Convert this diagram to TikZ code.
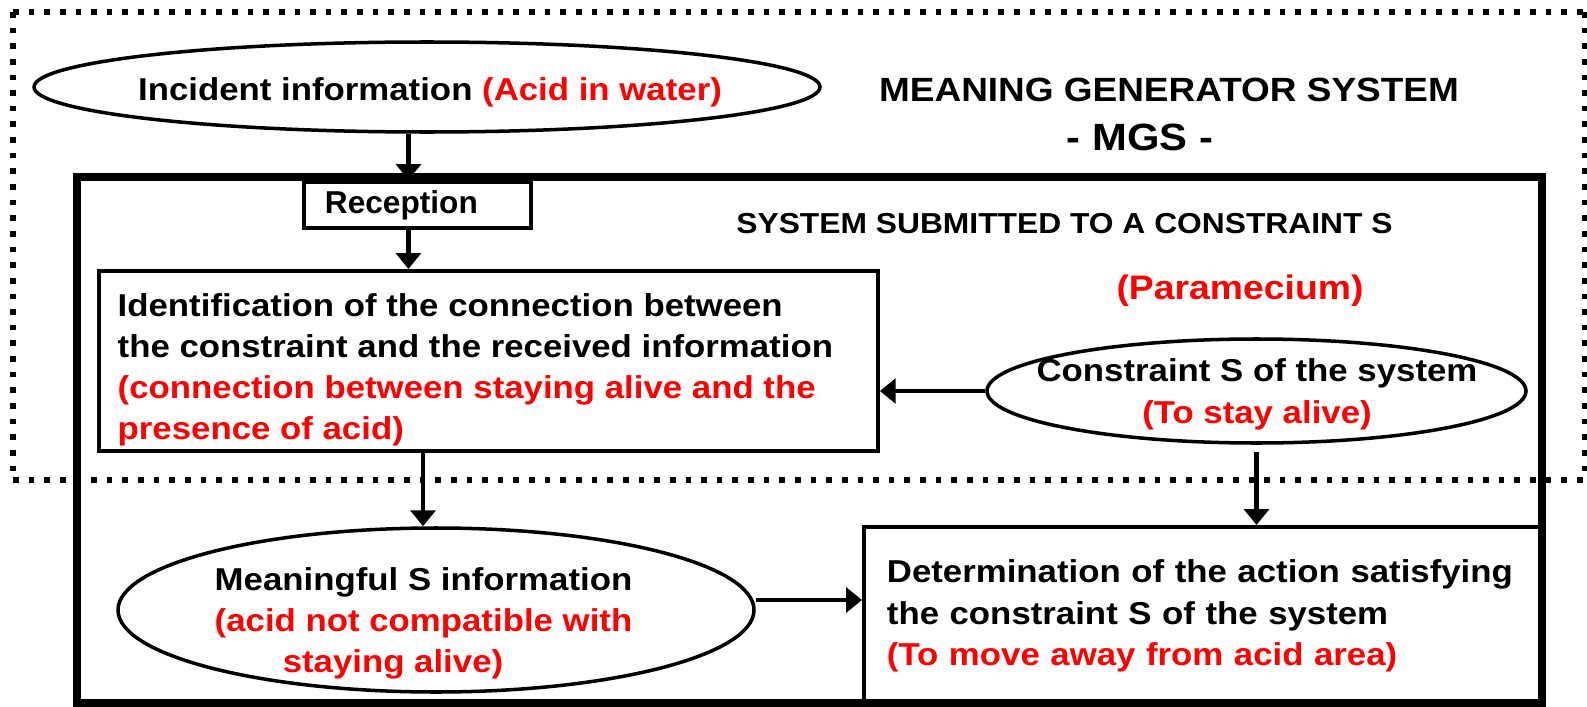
\documentclass[tikz,border=0pt]{standalone}
\usepackage{fontspec}
\setmainfont{Liberation Sans}[FakeStretch=1.1]
\newfontfamily\recepfont{Liberation Sans}
\usetikzlibrary{arrows.meta,shapes,positioning}
\definecolor{mgsred}{RGB}{255,0,0}

\begin{document}
\begin{tikzpicture}[
    every node/.style={inner sep=0pt, font=\bfseries\fontsize{9}{11.7}\selectfont},
    box/.style={draw, line width=1.1pt, rectangle, align=left},
    oval/.style={draw, line width=1pt, ellipse},
    link/.style={line width=1.3pt, -{Triangle[width=7pt,length=4.5pt]}},
    frame/.style={line width=2pt},
    mgsdots/.style={line width=1.8pt, dash pattern=on 1.6pt off 2.85pt}
  ]
  \useasboundingbox (0,0) rectangle (15.87,-7.07);
  \draw [frame] (0.77,-1.77) rectangle (15.42,-7.03);

  \node [oval, minimum width=7.86cm, minimum height=0.90cm] (incident) at (4.27,-0.87) {};
  \node [anchor=base] (incidenttxt) at (4.30,-1.00) {Incident information \textcolor{mgsred}{(Acid in water)}};

  \node [anchor=base, font=\bfseries\fontsize{9.56}{12}\selectfont] (mgstitle) at (11.69,-1.017) {MEANING GENERATOR SYSTEM};
  \node [anchor=base, font=\bfseries\fontsize{10.8}{13}\selectfont] (mgsabbr) at (11.40,-1.50) {- MGS -};
  \node [anchor=base, font=\bfseries\fontsize{8.22}{10}\selectfont] (systitle) at (10.645,-2.33) {SYSTEM SUBMITTED TO A CONSTRAINT S};
  \node [anchor=base, text=mgsred, font=\bfseries\fontsize{9.66}{12}\selectfont] (paramecium) at (12.40,-2.99) {(Paramecium)};

  \node [box, anchor=north west, inner xsep=0.21cm, minimum width=2.27cm, minimum height=0.46cm, text width=1.85cm,
         font=\recepfont\bfseries\fontsize{9}{11}\selectfont] (recep) at (3.02,-1.80) {Reception};

  \node [box, anchor=north west, minimum width=7.79cm, minimum height=1.80cm] (ident) at (0.97,-2.69) {};
  \node [anchor=north west, align=left] (identtxt) at ([xshift=0.2cm, yshift=-0.235cm]ident.north west)
    {Identification of the connection between\\
     the constraint and the received information\\
     \textcolor{mgsred}{(connection between staying alive and the}\\
     \textcolor{mgsred}{presence of acid)}};

  \node [oval, minimum width=5.39cm, minimum height=1.04cm] (constr) at (12.565,-3.91) {};
  \node [align=center] (constrtxt) at (12.57,-3.943) {Constraint S of the system\\\textcolor{mgsred}{(To stay alive)}};

  \node [oval, minimum width=6.36cm, minimum height=1.64cm] (mean) at (4.36,-6.10) {};
  \node [align=center] (meantxt) at (4.235,-6.233) {Meaningful S information\\
    \textcolor{mgsred}{(acid not compatible with}\\
    \textcolor{mgsred}{staying alive)}\hspace*{0.61cm}};

  \node [box, anchor=north west, inner xsep=0.23cm, minimum width=6.78cm, minimum height=1.78cm, text width=6.32cm] (det) at (8.62,-5.25)
    {Determination of the action satisfying\\
     the constraint S of the system\\
     \textcolor{mgsred}{(To move away from acid area)}};

  \draw [link] ([xshift=-0.09cm]incident.south -| recep.north) -- ([xshift=-0.09cm]recep.north);
  \draw [link] ([xshift=-0.09cm]recep.south) -- ([xshift=-0.09cm]recep.south |- ident.north);
  \draw [link] (constr.west) -- (constr.west -| ident.east);
  \draw [link] ([xshift=-0.13cm]mean.north |- ident.south) -- ([xshift=-0.13cm]mean.north);
  \draw [link, shorten <=2pt] (constr.south) -- (constr.south |- det.north);
  \draw [link] ([yshift=0.1cm]mean.east) -- ([yshift=0.1cm]mean.east -| det.west);

  \draw [mgsdots] (0.13,-0.12) -- (15.85,-0.12);
  \draw [mgsdots] (0.13,-4.80) -- (15.85,-4.80);
  \draw [mgsdots] (0.13,-0.12) -- (0.13,-4.80);
  \draw [mgsdots] (15.85,-0.12) -- (15.85,-4.80);
\end{tikzpicture}
\end{document}
